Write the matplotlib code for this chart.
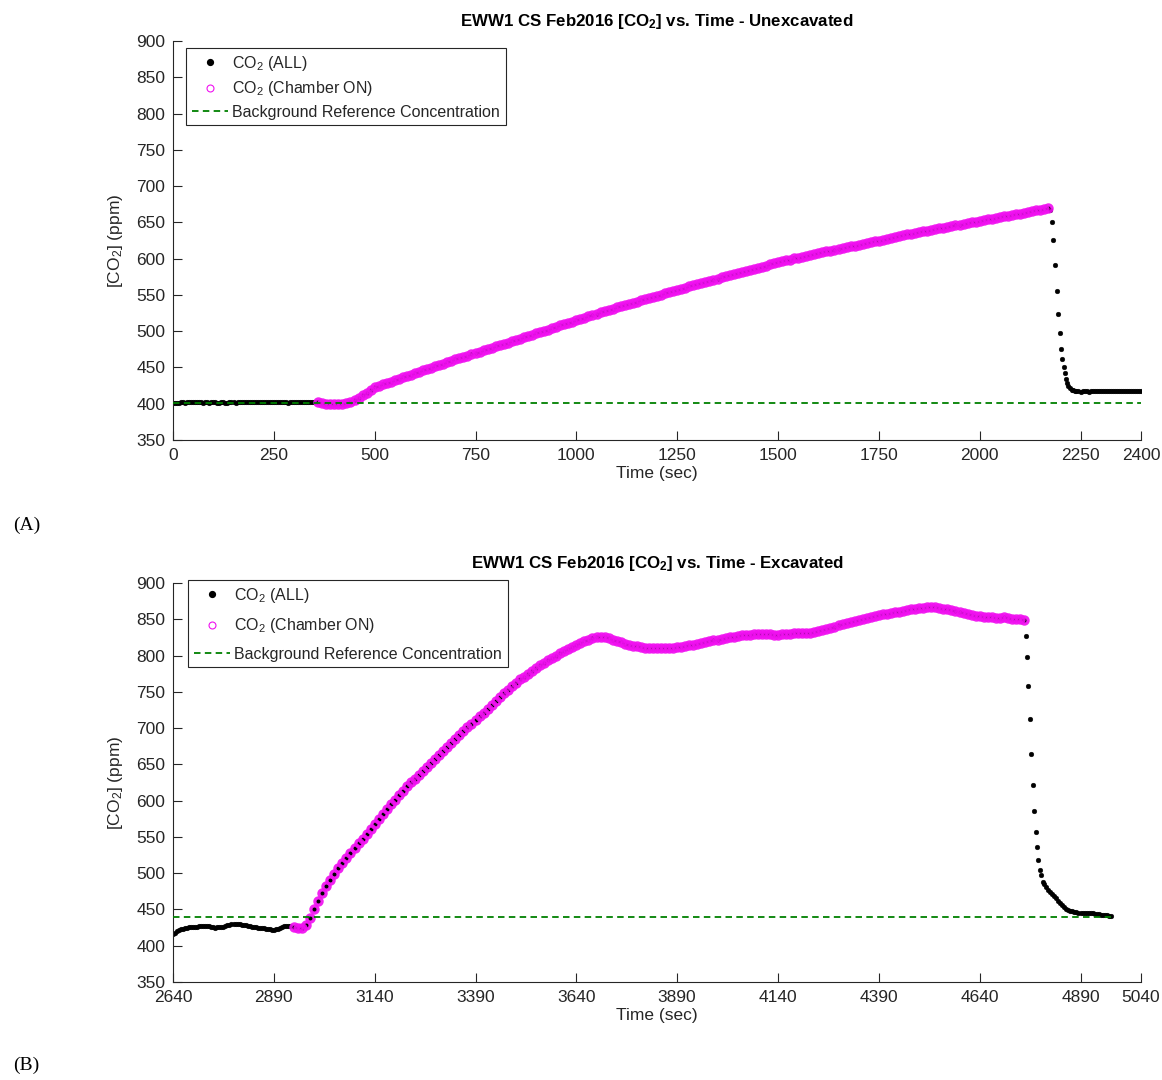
import numpy as np
import matplotlib
matplotlib.use("Agg")
import matplotlib.pyplot as plt
from matplotlib.lines import Line2D

plt.rcParams['font.family'] = ['Liberation Sans', 'DejaVu Sans']
plt.rcParams['mathtext.fontset'] = 'custom'
plt.rcParams['mathtext.rm'] = 'Liberation Sans'
plt.rcParams['mathtext.it'] = 'Liberation Sans:italic'
plt.rcParams['mathtext.bf'] = 'Liberation Sans:bold'
plt.rcParams['mathtext.default'] = 'regular'

# ---------------- Data: (A) Unexcavated ----------------
bg_A = 401.5
pre_A_start, pre_A_step = 0, 5
pre_A = [401.0, 401.3, 401.6, 401.4, 401.7, 401.9, 401.6, 402.0, 402.2, 401.9, 401.7, 402.0,
         402.3, 402.1, 401.8, 401.6, 401.9, 401.7, 401.5, 401.7, 402.0, 401.8, 401.6, 401.4,
         401.7, 401.9, 401.6, 401.5, 401.8, 402.0, 401.7, 401.6, 401.9, 402.1, 401.9, 401.7,
         401.9, 402.1, 402.3, 402.5, 402.4, 402.6, 402.7, 402.5, 402.3, 402.4, 402.6, 402.5,
         402.2, 402.0, 402.1, 401.9, 401.7, 401.8, 402.0, 401.9, 401.7, 401.6, 401.8, 402.0,
         401.9, 401.7, 401.9, 402.1, 402.2, 402.0, 402.1, 402.2, 402.0, 401.9, 402.1, 402.2]
on_A_start, on_A_step = 360, 10
on_A = [402.0, 401.0, 400.2, 399.6, 399.4, 399.5, 400.0, 401.0, 402.8, 405.3,
        408.3, 411.7, 415.3, 419.0, 422.8, 424.9, 426.7, 428.8, 430.5, 432.6,
        434.3, 436.4, 438.1, 440.2, 442.0, 443.8, 445.9, 447.6, 449.7, 451.4,
        453.5, 455.2, 457.3, 459.0, 461.1, 462.7, 464.7, 466.3, 468.3, 470.0,
        471.9, 473.5, 475.5, 477.1, 479.1, 480.7, 482.7, 484.3, 486.3, 487.9,
        489.9, 491.5, 493.5, 495.1, 497.1, 498.7, 500.7, 502.3, 504.3, 505.9,
        507.9, 509.5, 511.5, 513.1, 515.1, 516.7, 518.7, 520.3, 522.3, 523.9,
        525.9, 527.5, 529.5, 531.1, 533.1, 534.5, 536.3, 537.7, 539.5, 540.9,
        542.7, 544.1, 545.9, 547.3, 549.1, 550.5, 552.3, 553.7, 555.5, 556.9,
        558.7, 560.1, 561.9, 563.3, 565.1, 566.4, 568.1, 569.4, 571.1, 572.4,
        574.1, 575.4, 577.1, 578.4, 580.1, 581.4, 583.1, 584.4, 586.1, 587.4,
        589.1, 590.4, 592.1, 593.4, 595.1, 596.2, 597.7, 598.8, 600.3, 601.4,
        602.9, 604.0, 605.5, 606.6, 608.1, 609.0, 610.3, 611.2, 612.5, 613.4,
        614.7, 615.6, 616.9, 617.8, 619.1, 620.1, 621.5, 622.5, 623.9, 624.9,
        626.3, 627.3, 628.7, 629.7, 631.1, 632.0, 633.3, 634.2, 635.5, 636.4,
        637.7, 638.6, 639.9, 640.8, 642.1, 642.9, 644.1, 644.9, 646.1, 646.9,
        648.1, 648.9, 650.1, 650.9, 652.1, 652.9, 654.1, 654.9, 656.1, 656.9,
        658.1, 658.9, 660.1, 660.9, 662.1, 663.0, 664.3, 665.2, 666.5, 667.4,
        668.7, 669.7]
drop_A_t = [2175, 2179, 2183, 2187, 2191, 2194, 2198, 2202, 2205, 2208,
            2211, 2214, 2217, 2220, 2224, 2228, 2232, 2236, 2240, 2245]
drop_A = [667, 651, 625, 591, 556, 524, 497, 476, 461, 450,
          442, 434, 428, 424, 421, 419.5, 418.3, 417.6, 417.2, 416.9]
post_A_start, post_A_step = 2250, 5
post_A = [416.8, 416.9, 417.0, 416.9, 416.8, 416.9, 417.1, 417.2, 417.0, 416.9,
          417.0, 417.2, 417.3, 417.1, 417.0, 417.1, 417.2, 417.0, 416.9, 417.0,
          417.1, 417.0, 416.9, 417.0, 417.1, 417.2, 417.1, 417.0, 416.9, 417.0, 417.0]

# ---------------- Data: (B) Excavated ----------------
bg_B = 440.0
pre_B_start, pre_B_step = 2640, 5
pre_B = [416.5, 418.2, 419.8, 421.3, 422.5, 423.5, 424.3, 424.9, 425.3, 425.6,
         425.8, 426.0, 426.3, 426.7, 427.2, 427.5, 427.6, 427.3, 426.6, 425.9,
         425.4, 425.1, 425.2, 425.5, 425.9, 426.4, 427.2, 428.1, 428.9, 429.5,
         429.8, 429.9, 430.0, 429.8, 429.2, 428.6, 428.0, 427.3, 426.6, 426.0,
         425.6, 425.2, 424.9, 424.6, 424.3, 424.0, 423.6, 423.2, 422.7, 422.3,
         422.1, 422.6, 423.5, 424.5, 425.6, 426.6, 427.3, 427.6, 427.7]
on_B_start, on_B_step = 2940, 10
on_B = [426.5, 425.0, 424.8, 428.5, 438.5, 450.0, 461.0, 472.0, 482.0, 491.0,
        499.5, 507.0, 514.0, 521.0, 528.0, 534.5, 541.0, 547.5, 554.0, 561.0,
        567.5, 574.0, 581.0, 588.0, 595.0, 601.5, 607.5, 613.5, 619.5, 625.0,
        630.0, 635.0, 640.5, 646.0, 651.5, 657.0, 662.5, 668.0, 673.5, 679.0,
        684.5, 690.0, 695.5, 701.0, 706.0, 711.0, 716.0, 721.0, 726.5, 732.0,
        737.5, 743.0, 748.0, 753.0, 758.0, 762.5, 767.0, 771.0, 775.0, 779.0,
        783.0, 786.5, 790.0, 793.5, 797.0, 800.0, 803.0, 806.0, 809.0, 812.0,
        814.5, 817.0, 819.5, 821.5, 823.5, 825.0, 826.0, 825.5, 824.0, 822.0,
        820.0, 818.0, 816.5, 815.0, 813.5, 812.5, 811.5, 811.0, 810.5, 810.3,
        810.2, 810.2, 810.4, 810.6, 810.8, 811.2, 812.0, 813.0, 814.0, 815.0,
        816.0, 817.0, 818.2, 819.5, 820.8, 822.0, 823.0, 824.0, 825.0, 826.0,
        827.0, 827.8, 828.5, 829.0, 829.5, 830.0, 830.2, 830.0, 829.5, 829.0,
        829.0, 829.2, 829.5, 830.0, 830.5, 830.8, 830.8, 831.0, 831.5, 832.5,
        834.0, 835.5, 837.0, 838.5, 840.0, 841.5, 843.0, 844.5, 846.0, 847.5,
        849.0, 850.5, 852.0, 853.5, 855.0, 856.0, 857.0, 857.5, 858.5, 859.5,
        860.5, 861.5, 862.5, 863.5, 864.5, 865.5, 866.0, 866.5, 867.0, 867.0,
        866.0, 864.5, 863.5, 863.0, 862.0, 860.0, 858.5, 857.0, 856.0, 855.0,
        854.0, 853.5, 853.0, 852.5, 852.0, 852.0, 852.5, 852.0, 851.0, 850.5,
        850.0, 849.5]
drop_B_t = [4755, 4757, 4761, 4765, 4768, 4772, 4775, 4779, 4783, 4785, 4789, 4793, 4797]
drop_B = [827, 798, 758, 712, 664, 622, 586, 557, 536, 518, 505, 497.5, 488]
post_B_start, post_B_step = 4800, 5
post_B = [484.5, 480.5, 477.5, 474.5, 471.5, 468.5, 465.5, 462.0, 458.5, 455.5,
          453.0, 451.3, 449.5, 448.2, 447.2, 446.5, 446.0, 445.8, 445.7, 445.6,
          445.6, 445.5, 445.4, 445.2, 444.8, 444.2, 443.7, 443.3, 442.9, 442.5,
          442.1, 441.7, 441.3, 441.0]

xticks_A = [0, 250, 500, 750, 1000, 1250, 1500, 1750, 2000, 2250, 2400]
xticks_B = [2640, 2890, 3140, 3390, 3640, 3890, 4140, 4390, 4640, 4890, 5040]
yticks = [350, 400, 450, 500, 550, 600, 650, 700, 750, 800, 850, 900]

titles = [r'EWW1 CS Feb2016 [CO$_\mathbf{2}$] vs. Time - Unexcavated',
          r'EWW1 CS Feb2016 [CO$_\mathbf{2}$] vs. Time - Excavated']
panel_labels = ['(A)', '(B)']


def series(start, step, vals):
    return start + step * np.arange(len(vals)), np.asarray(vals, float)


def build(pre, on, drop_t, drop_v, post):
    tp, vp = series(*pre)
    to, vo = series(*on)
    tq, vq = series(*post)
    t_all = np.concatenate([tp, to, np.asarray(drop_t, float), tq])
    v_all = np.concatenate([vp, vo, np.asarray(drop_v, float), vq])
    return t_all, v_all, to, vo


dA = build((pre_A_start, pre_A_step, pre_A), (on_A_start, on_A_step, on_A),
           drop_A_t, drop_A, (post_A_start, post_A_step, post_A))
dB = build((pre_B_start, pre_B_step, pre_B), (on_B_start, on_B_step, on_B),
           drop_B_t, drop_B, (post_B_start, post_B_step, post_B))

W, H = 1162, 1080
fig = plt.figure(figsize=(W / 100, H / 100), dpi=100)
fig.patch.set_facecolor('white')

axA = fig.add_axes([173 / W, 1 - 440 / H, 968 / W, 399 / H])
axB = fig.add_axes([173 / W, 1 - 982 / H, 968 / W, 399 / H])

GRAY = '#262626'
MAG = '#F010F0'
GRN = '#008000'

configs = [
    (axA, dA, bg_A, (0, 2400), xticks_A, titles[0], (0.0134, 0.982), 0.4),
    (axB, dB, bg_B, (2640, 5040), xticks_B, titles[1], (0.0155, 1.007), 0.72),
]

for ax, (t_all, v_all, t_on, v_on), bg, xlim, xt, title, anchor, lspace in configs:
    ax.plot(t_all, v_all, linestyle='none', marker='o', markersize=3.4,
            markerfacecolor='black', markeredgecolor='black', markeredgewidth=0.3, zorder=2)
    ax.plot(t_on, v_on, linestyle='none', marker='o', markersize=5.2,
            markerfacecolor='none', markeredgecolor=MAG, markeredgewidth=2.3,
            alpha=0.92, zorder=3)
    ax.plot([t_all[0], t_all[-1]], [bg, bg], color=GRN, linewidth=1.3,
            linestyle=(0, (3.6, 2.4)), zorder=4)

    ax.set_xlim(*xlim)
    ax.set_ylim(350, 900)
    ax.set_xticks(xt)
    ax.set_yticks(yticks)
    ax.set_xticklabels([str(v) for v in xt])
    ax.set_yticklabels([str(v) for v in yticks])
    for s in ['top', 'right']:
        ax.spines[s].set_visible(False)
    for s in ['left', 'bottom']:
        ax.spines[s].set_color(GRAY)
        ax.spines[s].set_linewidth(0.8)
    ax.tick_params(axis='both', direction='in', length=6.5, width=0.8,
                   colors=GRAY, labelsize=12.5, labelcolor=GRAY)
    ax.tick_params(axis='y', pad=5.5)
    ax.tick_params(axis='x', pad=6)
    ax.set_xlabel('Time (sec)', fontsize=12.5, color=GRAY, labelpad=2)
    ax.set_ylabel(r'[CO$_2$] (ppm)', fontsize=12.5, color=GRAY, labelpad=8)
    ax.set_title(title, fontsize=12.2, fontweight='bold', pad=11)

    handles = [
        Line2D([], [], linestyle='none', marker='o', markersize=4.2,
               markerfacecolor='black', markeredgecolor='black'),
        Line2D([], [], linestyle='none', marker='o', markersize=5,
               markerfacecolor='none', markeredgecolor=MAG, markeredgewidth=0.8),
        Line2D([], [], color=GRN, linewidth=1.3, linestyle=(0, (3.6, 2.4))),
    ]
    labels = [r'CO$_2$ (ALL)', r'CO$_2$ (Chamber ON)', 'Background Reference Concentration']
    leg = ax.legend(handles, labels, loc='upper left', bbox_to_anchor=anchor,
                    borderaxespad=0, fontsize=11.5, frameon=True, fancybox=False,
                    edgecolor=GRAY, framealpha=1, labelspacing=lspace,
                    handlelength=2.3, handletextpad=0.25, borderpad=0.35,
                    labelcolor=GRAY)
    leg.get_frame().set_linewidth(0.8)

fig.text(13 / W, 1 - 525 / H, panel_labels[0], fontsize=14,
         family=['Liberation Serif', 'DejaVu Serif'], va='center', ha='left')
fig.text(13 / W, 1 - 1065 / H, panel_labels[1], fontsize=14,
         family=['Liberation Serif', 'DejaVu Serif'], va='center', ha='left')

fig.savefig('out.png', dpi=100, facecolor='white')
